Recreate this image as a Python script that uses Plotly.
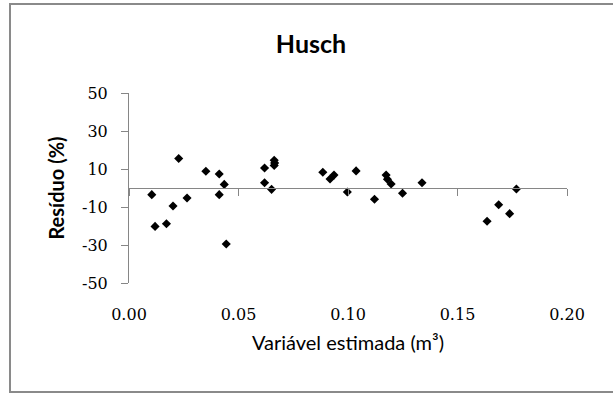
import plotly.graph_objects as go

# Data
x_est = [0.0104, 0.0119, 0.0171, 0.0201, 0.0227, 0.0265, 0.0351, 0.0412, 0.0412, 0.0435,
         0.0444, 0.0619, 0.0619, 0.0651, 0.0663, 0.0665, 0.0663,
         0.0885, 0.0918, 0.0936, 0.0997, 0.1037, 0.1121, 0.1174, 0.1180, 0.1197,
         0.1249, 0.1338, 0.1635, 0.1688, 0.1738, 0.1769]
residuo = [-3.5, -20.2, -18.8, -9.5, 15.5, -5.3, 8.8, 7.4, -3.5, 1.9,
           -29.5, 10.5, 2.8, -0.7, 14.6, 13.2, 11.9,
           8.3, 4.7, 6.8, -2.1, 9.0, -5.9, 6.8, 4.6, 2.1,
           -2.8, 2.8, -17.5, -8.8, -13.5, -0.5]
x_ticks = [0.00, 0.05, 0.10, 0.15, 0.20]
x_ticklabels = ["0.00", "0.05", "0.10", "0.15", "0.20"]
y_ticks = [-50, -30, -10, 10, 30, 50]
y_ticklabels = ["-50", "-30", "-10", "10", "30", "50"]

W, H = 613, 393
L, R, T, B = 129, 46, 93, 110
axis_grey = "#868686"
frame_grey = "#8a8a8a"
serif = "DejaVu Serif"
sans = "Lato"

fig = go.Figure()
fig.add_trace(go.Scatter(
    x=x_est, y=residuo, mode="markers",
    marker=dict(symbol="diamond", size=7, color="black"),
    showlegend=False, hoverinfo="x+y"))
# empty trace to register the zero-crossing axis
fig.add_trace(go.Scatter(x=[], y=[], xaxis="x2", showlegend=False))

pw = W - L - R
ph = H - T - B
def px_to_paper_x(p):
    return (p - L) / pw
def px_to_paper_y(p):
    return (H - B - p) / ph

fx0, fx1 = px_to_paper_x(10), px_to_paper_x(640)
fy0, fy1 = px_to_paper_y(392), px_to_paper_y(4)
shapes = [
    dict(type="rect", xref="paper", yref="paper", layer="above",
         x0=fx0, x1=fx1, y0=fy0, y1=fy1,
         line=dict(color=frame_grey, width=2), fillcolor="rgba(0,0,0,0)"),
    dict(type="path", xref="paper", yref="paper", layer="above",
         path=f"M {fx0},{fy1} L {px_to_paper_x(613)},{fy1}",
         line=dict(color=frame_grey, width=2)),
]

fig.update_layout(
    width=W, height=H,
    margin=dict(l=L, r=R, t=T, b=B, pad=0),
    paper_bgcolor="white", plot_bgcolor="white",
    title=dict(text="Husch", font=dict(family=sans, size=25, color="black", weight="bold"),
               xref="container", yref="container", x=311 / W, y=1 - 44 / H,
               xanchor="center", yanchor="middle"),
    xaxis=dict(range=[0, 0.2], tickvals=x_ticks, ticktext=x_ticklabels,
               showline=False, showgrid=False, zeroline=False,
               ticks="outside", ticklen=17, tickcolor="rgba(0,0,0,0)",
               tickfont=dict(family=serif, size=16, color="black"),
               title=dict(text="Variável estimada (m³)",
                          font=dict(family=sans, size=20, color="black"), standoff=12)),
    xaxis2=dict(range=[0, 0.2], overlaying="x", anchor="free", position=0.5,
                tickvals=x_ticks, showticklabels=False,
                showline=True, linecolor=axis_grey, linewidth=1,
                ticks="outside", ticklen=7, tickcolor=axis_grey, tickwidth=1,
                showgrid=False, zeroline=False),
    yaxis=dict(range=[-50, 50], tickvals=y_ticks, ticktext=y_ticklabels,
               showline=True, linecolor=axis_grey, linewidth=1,
               ticks="outside", ticklen=7, tickcolor=axis_grey, tickwidth=1,
               ticklabelstandoff=10,
               showgrid=False, zeroline=False,
               tickfont=dict(family=serif, size=16, color="black"),
               title=dict(text="Resíduo (%)",
                          font=dict(family=sans, size=20, color="black", weight="bold"),
                          standoff=12)),
    shapes=shapes,
)

fig.write_html("out.html", config={"displayModeBar": False},
               post_script="document.body.style.margin='0';document.body.style.overflow='hidden';"
                           "document.documentElement.style.overflow='hidden';window.scrollTo(0,0);")
